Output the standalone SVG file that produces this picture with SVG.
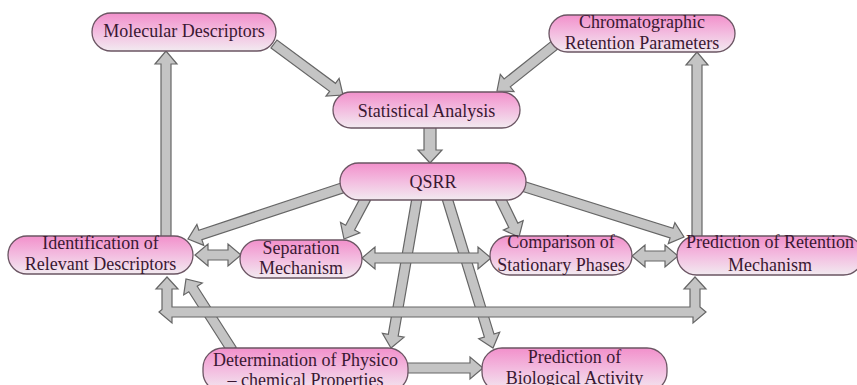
<svg xmlns="http://www.w3.org/2000/svg" width="857" height="385" viewBox="0 0 857 385">
  <defs>
    <linearGradient id="pill" x1="0" y1="0" x2="0" y2="1">
      <stop offset="0" stop-color="#f290cb"/>
      <stop offset="0.5" stop-color="#f3bde0"/>
      <stop offset="1" stop-color="#f2eaf0"/>
    </linearGradient>
    <style>
      .node { fill: url(#pill); stroke: #6b5563; stroke-width: 1.3; }
      .lbl { font-family: "Liberation Serif", "Times New Roman", serif; font-size: 18px; fill: #3a1832; text-anchor: middle; }
      .arr { fill: #c4c4c4; stroke: #666666; stroke-width: 1.2; stroke-linejoin: miter; }
    </style>
  </defs>
  <rect width="857" height="385" fill="#ffffff"/>

  <!-- connectors: diagonal / vertical block arrows first, horizontal ones on top -->
  <g id="connectors">
    <polygon class="arr" points="271.0,48.0 329.6,91.3 326.0,96.1 343,95 339.1,78.4 335.5,83.3 277.0,40.0"/>
    <polygon class="arr" points="552.9,40.1 504.1,79.0 500.3,74.3 497,91 514.0,91.5 510.3,86.8 559.1,47.9"/>
    <polygon class="arr" points="424,127 424,150 418,150 430,163 442,150 436,150 436,127"/>
    <polygon class="arr" points="343.4,182.3 198.8,230.2 196.9,224.5 188,239 203.8,245.4 201.9,239.7 346.6,191.8"/>
    <polygon class="arr" points="361.6,195.6 345.7,225.2 340.5,222.4 344,239 359.8,232.8 354.6,229.9 370.4,200.4"/>
    <polygon class="arr" points="412.1,197.2 388.3,334.3 382.4,333.3 391,348 404.1,337.1 398.2,336.0 421.9,198.9"/>
    <polygon class="arr" points="442.2,199.5 484.4,337.0 478.7,338.8 493,348 499.7,332.3 494.0,334.1 451.8,196.5"/>
    <polygon class="arr" points="495.5,200.2 508.8,227.5 503.4,230.1 519,237 523.2,220.5 517.8,223.1 504.5,195.8"/>
    <polygon class="arr" points="520.5,190.8 670.1,237.9 668.3,243.6 684,237 674.9,222.6 673.1,228.3 523.5,181.2"/>
    <polygon class="arr" points="171,237 171,64 177,64 166,51 155,64 161,64 161,237"/>
    <polygon class="arr" points="702,237 702,65 708,65 697,52 686,65 692,65 692,237"/>
    <polygon class="arr" points="236.2,347.3 197.2,286.3 202.3,283.0 186,279 183.7,294.9 188.8,291.7 227.8,352.7"/>
    <!-- double-headed links between neighbouring nodes -->
    <polygon class="arr" points="195,255 208,266 208,260 228,260 228,266 241,255 228,244 228,250 208,250 208,244"/>
    <polygon class="arr" points="362,258 375,269 375,263 478,263 478,269 491,258 478,247 478,253 375,253 375,247"/>
    <polygon class="arr" points="632,256 645,267 645,261 665,261 665,267 678,256 665,245 665,251 645,251 645,245"/>
    <!-- long two-way bar with risers into both end nodes -->
    <polygon class="arr" points="159,312 162,309.5 162,289 156,289 167,277 178,289 172,289 172,307 690,307 690,289 684,289 695,277 706,289 700,289 700,306.9 706,312 693,323 693,317 172,317 172,323"/>
    <polygon class="arr" points="407,363 470,363 470,357 483,368 470,379 470,373 407,373"/>
  </g>

  <g id="molecular-descriptors">
    <rect class="node" x="92" y="13" width="184" height="38" rx="19"/>
    <text class="lbl" x="184" y="37">Molecular Descriptors</text>
  </g>
  <g id="chromatographic-retention">
    <rect class="node" x="549" y="15" width="186" height="37" rx="18.5"/>
    <text class="lbl" x="642" y="28">Chromatographic</text>
    <text class="lbl" x="642" y="49">Retention Parameters</text>
  </g>
  <g id="statistical-analysis">
    <rect class="node" x="333" y="92" width="187" height="36" rx="18"/>
    <text class="lbl" x="426.5" y="117">Statistical Analysis</text>
  </g>
  <g id="qsrr">
    <rect class="node" x="340" y="163" width="186" height="37" rx="18.5"/>
    <text class="lbl" x="433" y="188">QSRR</text>
  </g>
  <g id="identification">
    <rect class="node" x="8" y="236" width="185" height="38" rx="19"/>
    <text class="lbl" x="100.5" y="249">Identification of</text>
    <text class="lbl" x="100.5" y="270">Relevant Descriptors</text>
  </g>
  <g id="separation-mechanism">
    <rect class="node" x="240" y="240" width="122" height="38" rx="19"/>
    <text class="lbl" x="301" y="254">Separation</text>
    <text class="lbl" x="301" y="274">Mechanism</text>
  </g>
  <g id="comparison-phases">
    <rect class="node" x="490" y="236" width="142" height="39" rx="19.5"/>
    <text class="lbl" x="561" y="248">Comparison of</text>
    <text class="lbl" x="561" y="271">Stationary Phases</text>
  </g>
  <g id="prediction-retention">
    <rect class="node" x="677" y="236" width="186" height="39" rx="19.5"/>
    <text class="lbl" x="770" y="248">Prediction of Retention</text>
    <text class="lbl" x="770" y="271">Mechanism</text>
  </g>
  <g id="physicochemical-properties">
    <rect class="node" x="203" y="348" width="205" height="44" rx="20"/>
    <text class="lbl" x="305.5" y="366">Determination of Physico</text>
    <text class="lbl" x="305.5" y="386">– chemical Properties</text>
  </g>
  <g id="biological-activity">
    <rect class="node" x="482" y="348" width="185" height="44" rx="20"/>
    <text class="lbl" x="574.5" y="363">Prediction of</text>
    <text class="lbl" x="574.5" y="384">Biological Activity</text>
  </g>
</svg>
